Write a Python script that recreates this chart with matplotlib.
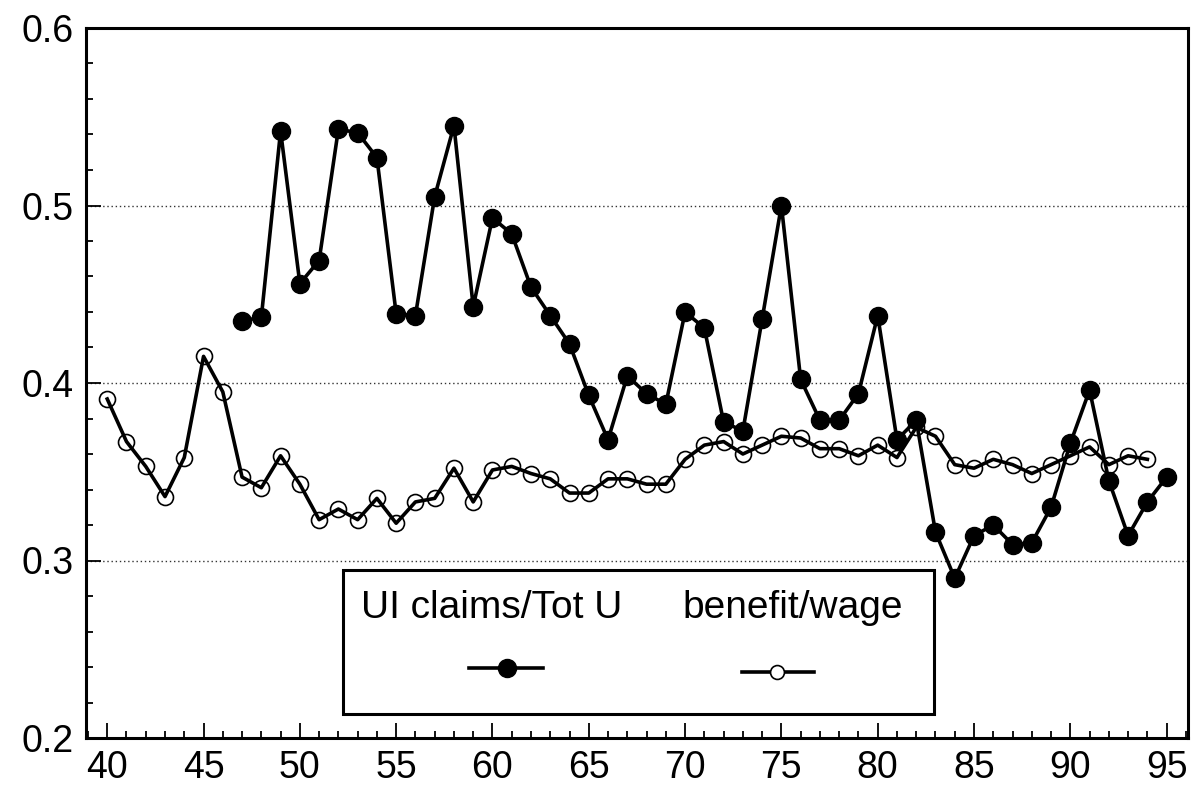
import matplotlib
matplotlib.use('Agg')
import matplotlib.pyplot as plt
from matplotlib.lines import Line2D
from matplotlib.patches import Rectangle
from matplotlib.ticker import MultipleLocator

plt.rcParams['font.family'] = ['Liberation Sans', 'DejaVu Sans']

# UI claims / total unemployment, 1947-1995
ui_years = list(range(47, 96))
ui_claims = [0.435, 0.437, 0.542, 0.456, 0.469, 0.543, 0.541, 0.527, 0.439, 0.438,
             0.505, 0.545, 0.443, 0.493, 0.484, 0.454, 0.438, 0.422, 0.393, 0.368,
             0.404, 0.394, 0.388, 0.440, 0.431, 0.378, 0.373, 0.436, 0.500, 0.402,
             0.379, 0.379, 0.394, 0.438, 0.368, 0.379, 0.316, 0.290, 0.314, 0.320,
             0.309, 0.310, 0.330, 0.366, 0.396, 0.345, 0.314, 0.333, 0.347]

# benefit / wage ratio, 1940-1994
bw_years = list(range(40, 95))
benefit_wage = [0.391, 0.367, 0.353, 0.336, 0.358, 0.415, 0.395, 0.347, 0.341, 0.359,
                0.343, 0.323, 0.329, 0.323, 0.335, 0.321, 0.333, 0.335, 0.352, 0.333,
                0.351, 0.353, 0.349, 0.346, 0.338, 0.338, 0.346, 0.346, 0.343, 0.343,
                0.357, 0.365, 0.367, 0.360, 0.365, 0.370, 0.369, 0.363, 0.363, 0.359,
                0.365, 0.358, 0.375, 0.370, 0.354, 0.352, 0.357, 0.354, 0.349, 0.354,
                0.359, 0.364, 0.354, 0.359, 0.357]

x_ticks = [40, 45, 50, 55, 60, 65, 70, 75, 80, 85, 90, 95]
y_ticks = [0.2, 0.3, 0.4, 0.5, 0.6]

fig = plt.figure(figsize=(11.95, 8.0), dpi=100)
ax = fig.add_axes([0.072, 0.0775, 0.922, 0.8875])

ax.plot(bw_years, benefit_wage, color='black', lw=2.6, marker='o', ms=11.5,
        mfc='none', mec='black', mew=1.2, zorder=3)
ax.plot(ui_years, ui_claims, color='black', lw=2.6, marker='o', ms=13,
        mfc='black', mec='black', zorder=4)

ax.set_xlim(38.9, 96.1)
ax.set_ylim(0.2, 0.6)
ax.set_xticks(x_ticks)
ax.set_yticks(y_ticks)
ax.set_yticklabels([f'{v:.1f}' for v in y_ticks])
ax.xaxis.set_minor_locator(MultipleLocator(1))
ax.yaxis.set_minor_locator(MultipleLocator(0.02))
ax.tick_params(which='both', direction='in', labelsize=27, width=1.3,
               top=False, right=False)
ax.tick_params(which='major', length=11, pad=9)
ax.tick_params(which='minor', length=5)
ax.grid(axis='y', which='major', linestyle=(0, (1, 2)), color='#333333', lw=1.0)
for s in ax.spines.values():
    s.set_linewidth(2.2)

# legend box with markers under the labels
ax.add_patch(Rectangle((0.233, 0.034), 0.537, 0.203, transform=ax.transAxes,
                       facecolor='white', edgecolor='black', lw=2.2, zorder=5))
ax.text(0.368, 0.183, 'UI claims/Tot U', transform=ax.transAxes, fontsize=28,
        ha='center', va='center', zorder=6)
ax.text(0.641, 0.183, 'benefit/wage', transform=ax.transAxes, fontsize=28,
        ha='center', va='center', zorder=6)
ax.add_line(Line2D([0.348, 0.415], [0.099, 0.099], transform=ax.transAxes,
                   color='black', lw=2.6, zorder=6))
ax.add_line(Line2D([0.382], [0.099], transform=ax.transAxes, color='black',
                   marker='o', ms=13, mfc='black', lw=0, zorder=7))
ax.add_line(Line2D([0.595, 0.661], [0.093, 0.093], transform=ax.transAxes,
                   color='black', lw=2.6, zorder=6))
ax.add_line(Line2D([0.627], [0.093], transform=ax.transAxes, color='black',
                   marker='o', ms=10, mfc='white', mec='black', mew=1.2, lw=0,
                   zorder=7))

plt.savefig('out.png', dpi=100, facecolor='white')
plt.close()
